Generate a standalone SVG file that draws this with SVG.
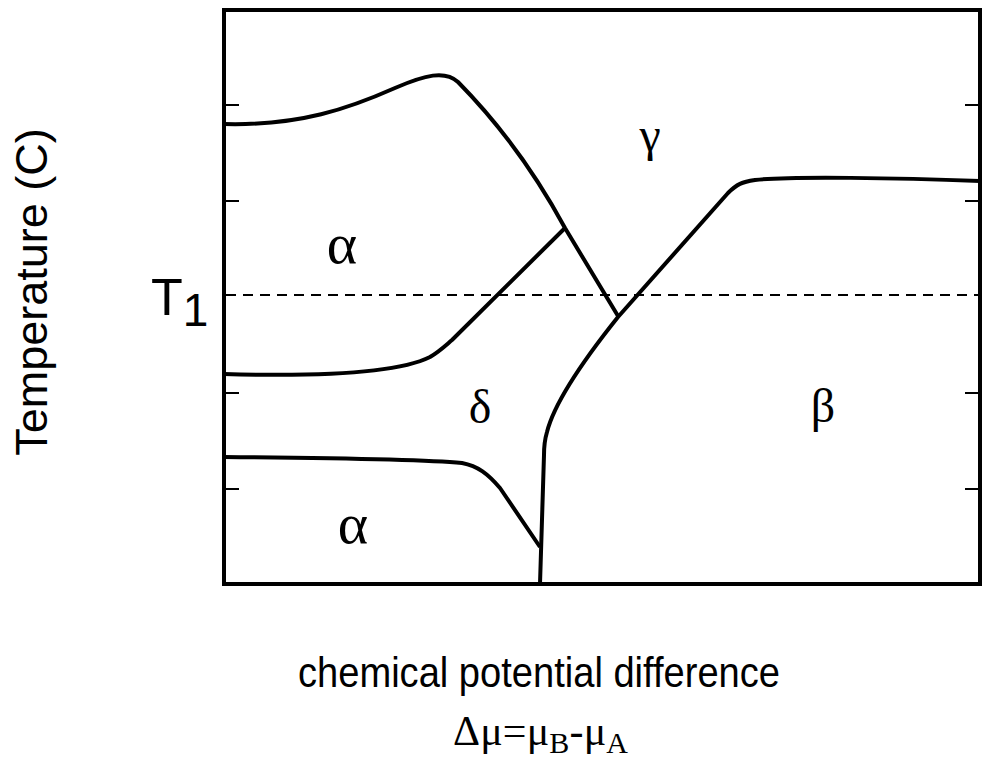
<svg xmlns="http://www.w3.org/2000/svg" width="989" height="772" viewBox="0 0 989 772">
<style>
.frame{fill:none;stroke:#000;stroke-width:4}
.tick{stroke:#000;stroke-width:2}
.curve{fill:none;stroke:#000;stroke-width:4;stroke-linejoin:round;stroke-linecap:butt}
.dash{stroke:#000;stroke-width:2;stroke-dasharray:10 7}
.greek{font-family:"Liberation Serif","Times New Roman",serif;font-size:48px;fill:#000;text-anchor:middle}
.alpha{font-size:58px}
.sans{font-family:"Liberation Sans",Arial,sans-serif;fill:#000}
</style>
<rect width="989" height="772" fill="#fff"/>
<g id="axes">
<rect class="frame" x="224" y="10" width="756" height="574"/>
<path class="tick" d="M224,105H239M224,201H239M224,393H239M224,489H239M965,105H980M965,201H980M965,393H980M965,489H980"/>
<line class="dash" x1="226" y1="295" x2="978" y2="295"/>
</g>
<g id="boundaries">
<path class="curve" d="M224,124 C300,126 350,108 395,88 C425,75 445,70 458,82 Q520,145 565,228 L618,316"/>
<path class="curve" d="M980,181 C900,178 790,176 755,180 C742,182 737,184 728,193 L618,317 C590,352 555,400 547,432 C544,442 544,450 544,455 L540,584"/>
<path class="curve" d="M224,374 C330,377 400,372 430,357 C440,351 445,346 452,340 L565,228"/>
<path class="curve" d="M224,457 C330,458 430,460 462,463 C478,466 488,474 500,488 L540,547"/>
</g>
<g id="phase-labels">
<text class="greek alpha" x="342" y="263">α</text>
<text class="greek" x="650" y="151" font-size="56">γ</text>
<text class="greek" x="480" y="423" font-size="50">δ</text>
<text class="greek" x="823" y="422" font-size="52">β</text>
<text class="greek alpha" x="353" y="543">α</text>
</g>
<g id="axis-labels">
<text class="sans" x="151" y="315" font-size="52">T<tspan font-size="46" dy="11">1</tspan></text>
<text class="sans" font-size="45" text-anchor="middle" transform="translate(47,292) rotate(-90)">Temperature (C)</text>
<text class="sans" x="539" y="687" font-size="43" text-anchor="middle" textLength="482" lengthAdjust="spacingAndGlyphs">chemical potential difference</text>
<text x="453" y="745" font-family="Liberation Serif,'Times New Roman',serif" font-size="42" textLength="175">Δμ=μ<tspan font-size="30" dy="8">B</tspan><tspan dy="-8">-μ</tspan><tspan font-size="30" dy="8">A</tspan></text>
</g>
</svg>
